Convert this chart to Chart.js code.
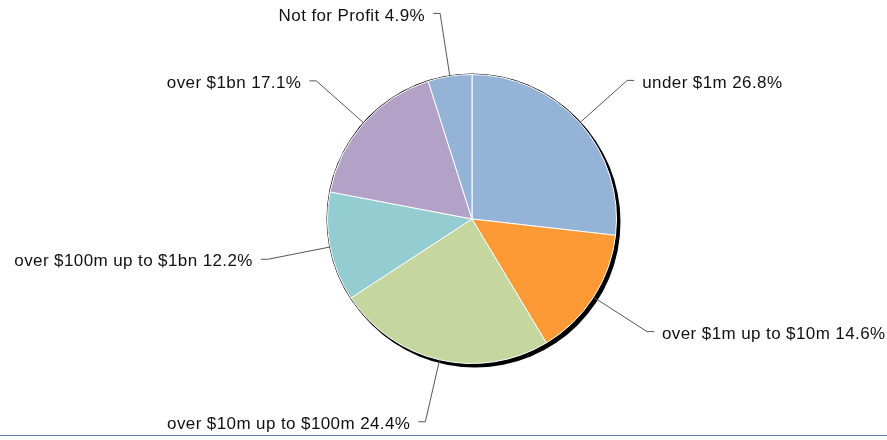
<!DOCTYPE html>
<html>
<head>
<meta charset="utf-8">
<script src="https://cdn.jsdelivr.net/npm/chart.js@4/dist/chart.umd.min.js"></script>
<style>
  html, body { margin: 0; padding: 0; background: #fff; }
  #wrap { position: relative; width: 887px; height: 440px; }
</style>
</head>
<body>
<div id="wrap"><canvas id="graficoPizza"></canvas></div>
<script>
// dados do gráfico
const categorias = [
  'under $1m',
  'over $1m up to $10m',
  'over $10m up to $100m',
  'over $100m up to $1bn',
  'over $1bn',
  'Not for Profit'
];
const percentuais = [26.8, 14.6, 24.4, 12.2, 17.1, 4.9];
const cores = ['#95b3d7', '#fd9a35', '#c5d79f', '#93cdd2', '#b3a2c7', '#95b3d7'];

// sombra preta atrás da pizza
const sombra = {
  id: 'sombra',
  beforeDatasetsDraw(chart) {
    const arc = chart.getDatasetMeta(0).data[0];
    if (!arc) return;
    const { x, y, outerRadius } = arc;
    const c = chart.ctx;
    c.save();
    c.fillStyle = '#000';
    c.beginPath();
    c.arc(x + 3, y + 3, outerRadius + 1, 0, Math.PI * 2);
    c.fill();
    c.beginPath();
    c.arc(x, y, outerRadius + 1, 0, Math.PI * 2);
    c.fill();
    c.restore();
  }
};

// rótulos com linha de chamada
const rotulos = {
  id: 'rotulos',
  afterDatasetsDraw(chart) {
    const c = chart.ctx;
    const arcs = chart.getDatasetMeta(0).data;
    c.save();
    c.font = '17px "Liberation Sans", Arial, sans-serif';
    if ('letterSpacing' in c) c.letterSpacing = '0.4px';
    c.textBaseline = 'middle';
    c.fillStyle = '#111';
    c.strokeStyle = '#555';
    c.lineWidth = 1;
    arcs.forEach((arc, i) => {
      const { x, y, outerRadius, startAngle, endAngle } = arc;
      const mid = (startAngle + endAngle) / 2;
      const cos = Math.cos(mid), sin = Math.sin(mid);
      const x0 = x + outerRadius * cos, y0 = y + outerRadius * sin;
      const re = outerRadius * 1.44;
      const x1 = x + re * cos, y1 = y + re * sin;
      const dir = cos >= 0 ? 1 : -1;
      const x2 = x1 + dir * 7;
      c.beginPath();
      c.moveTo(x0, y0);
      c.lineTo(x1, y1);
      c.lineTo(x2, y1);
      c.stroke();
      const txt = categorias[i] + ' ' + percentuais[i].toFixed(1) + '%';
      c.textAlign = dir > 0 ? 'left' : 'right';
      c.fillText(txt, x2 + dir * 8, y1 + 2.5);
    });
    // linha azul no rodapé
    c.strokeStyle = '#4f81bd';
    c.beginPath();
    c.moveTo(0, 435.5);
    c.lineTo(887, 435.5);
    c.stroke();
    c.restore();
  }
};

const ctx = document.getElementById('graficoPizza');
new Chart(ctx, {
  type: 'pie',
  data: {
    labels: categorias,
    datasets: [{
      data: percentuais,
      backgroundColor: cores,
      borderColor: '#fff',
      borderWidth: 1
    }]
  },
  options: {
    responsive: true,
    maintainAspectRatio: false,
    animation: false,
    layout: { padding: { left: 57, right: 0, top: 74, bottom: 76 } },
    plugins: {
      legend: { display: false },
      tooltip: { enabled: false }
    }
  },
  plugins: [sombra, rotulos]
});
</script>
</body>
</html>
